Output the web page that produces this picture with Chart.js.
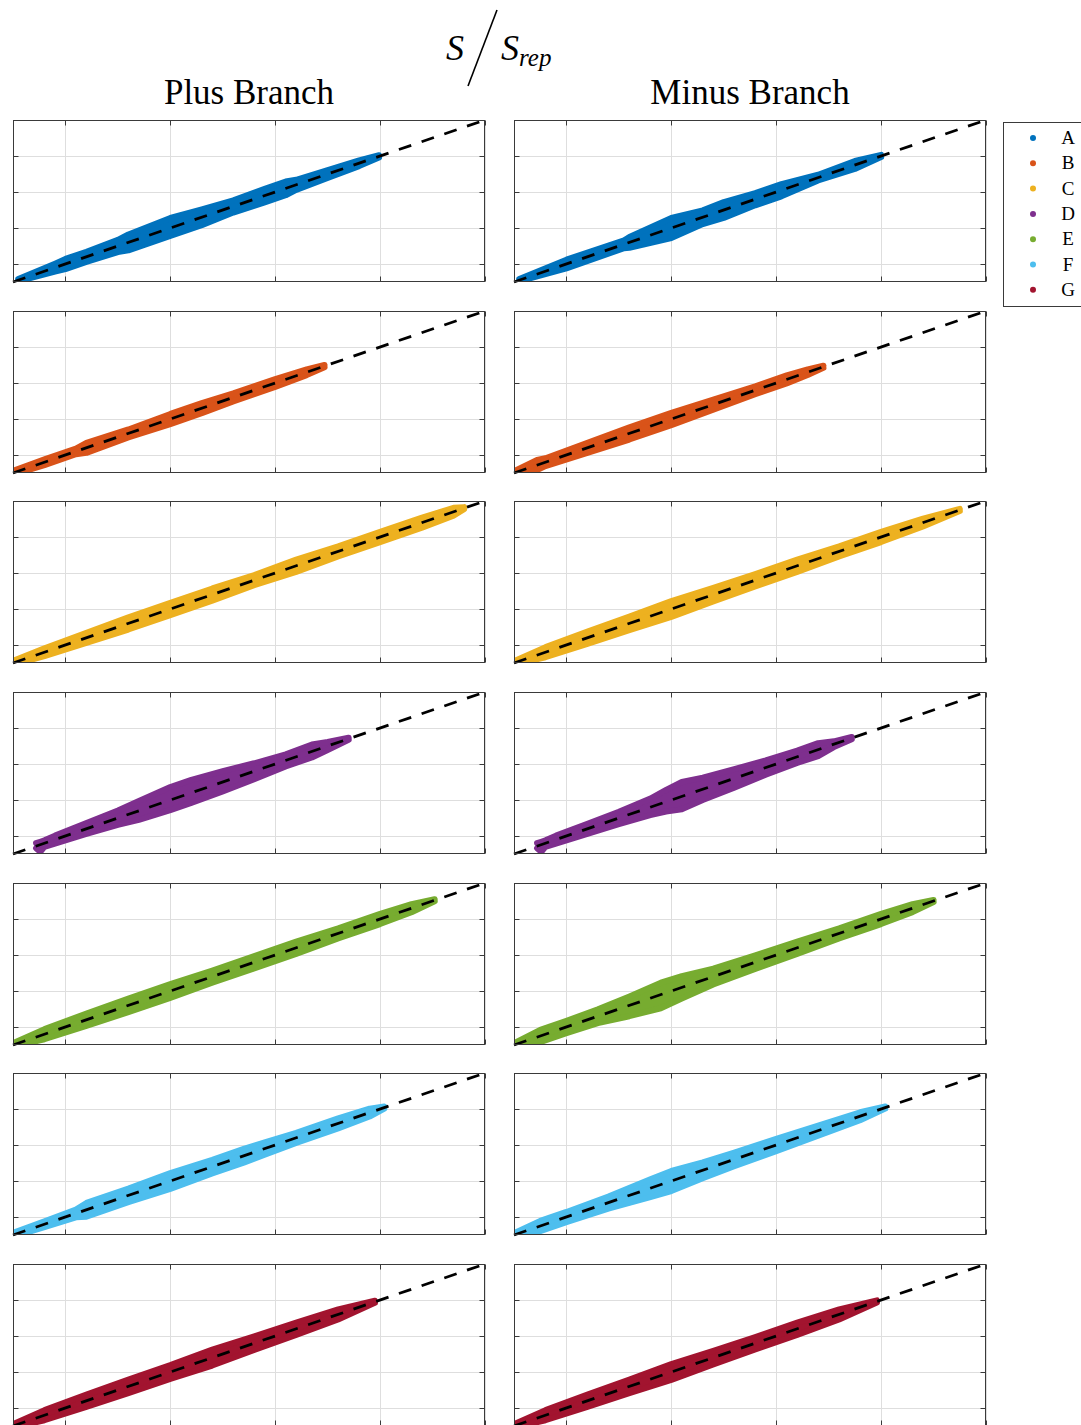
<!DOCTYPE html>
<html>
<head>
<meta charset="utf-8">
<script src="https://cdn.jsdelivr.net/npm/chart.js@4.4.1/dist/chart.umd.min.js"></script>
<style>
  html, body { margin: 0; padding: 0; background: #fff; }
  #page { position: relative; width: 1081px; height: 1425px; overflow: hidden; }
  #page canvas { position: absolute; }
  #overlay { position: absolute; left: 0; top: 0; }
  text { font-family: "Liberation Serif", "DejaVu Serif", serif; fill: #000; }
</style>
</head>
<body>
<div id="page">
  <svg id="overlay" width="1081" height="1425"></svg>
</div>
<script>
// series / legend
const seriesNames = ['A', 'B', 'C', 'D', 'E', 'F', 'G'];
const seriesColors = ['#0072BD', '#D95319', '#EDB120', '#7E2F8E', '#77AC30', '#4DBEEE', '#A2142F'];
const branchTitles = ['Plus Branch', 'Minus Branch'];

// both axes: S_rep (x) vs S (y)
const axisMin = 0.5;
const axisMax = 5;
const tickValues = [1, 2, 3, 4, 5];
const refLine = [0.5, 5];

// point clouds, read as lower / upper edge of the cloud at each x
const plusA_x  = [0.55, 0.9, 1.0, 1.2, 1.5, 1.6, 2.0, 2.3, 2.6, 2.9, 3.1, 3.2, 3.5, 3.8, 3.99];
const plusA_lo = [0.52, 0.79, 0.86, 1.06, 1.33, 1.38, 1.78, 2.08, 2.43, 2.71, 2.91, 3.06, 3.39, 3.72, 3.96];
const plusA_hi = [0.58, 1.01, 1.14, 1.34, 1.67, 1.82, 2.28, 2.52, 2.77, 3.09, 3.29, 3.34, 3.61, 3.88, 4.02];
const minusA_x  = [0.55, 1.0, 1.4, 1.55, 1.6, 2.0, 2.3, 2.5, 2.8, 3.05, 3.4, 3.75, 4.0];
const minusA_lo = [0.52, 0.88, 1.29, 1.44, 1.45, 1.72, 2.11, 2.28, 2.63, 2.88, 3.32, 3.64, 3.97];
const minusA_hi = [0.58, 1.12, 1.51, 1.66, 1.75, 2.28, 2.49, 2.72, 2.97, 3.22, 3.48, 3.86, 4.03];

const plusB_x  = [0.52, 0.8, 1.1, 1.2, 1.6, 2.0, 2.3, 2.6, 3.0, 3.3, 3.47];
const plusB_lo = [0.47, 0.72, 1.02, 1.06, 1.49, 1.86, 2.16, 2.49, 2.89, 3.22, 3.44];
const plusB_hi = [0.58, 0.88, 1.18, 1.34, 1.71, 2.14, 2.44, 2.71, 3.11, 3.38, 3.50];
const minusB_x  = [0.52, 0.72, 0.8, 1.2, 1.6, 2.0, 2.4, 2.8, 3.1, 3.3, 3.45];
const minusB_lo = [0.47, 0.58, 0.69, 1.06, 1.43, 1.83, 2.26, 2.69, 2.99, 3.22, 3.42];
const minusB_hi = [0.58, 0.86, 0.91, 1.34, 1.77, 2.17, 2.54, 2.91, 3.21, 3.38, 3.48];

const plusC_x  = [0.52, 0.8, 1.2, 1.6, 2.0, 2.4, 2.8, 3.2, 3.6, 4.0, 4.4, 4.7, 4.8];
const plusC_lo = [0.47, 0.69, 1.06, 1.43, 1.83, 2.23, 2.66, 3.03, 3.46, 3.86, 4.26, 4.59, 4.77];
const plusC_hi = [0.58, 0.91, 1.34, 1.77, 2.17, 2.57, 2.94, 3.37, 3.74, 4.14, 4.54, 4.81, 4.83];
const minusC_x  = [0.52, 0.8, 1.2, 1.6, 2.0, 2.4, 2.8, 3.2, 3.6, 4.0, 4.4, 4.75];
const minusC_lo = [0.47, 0.66, 1.03, 1.41, 1.78, 2.21, 2.63, 3.03, 3.46, 3.86, 4.29, 4.72];
const minusC_hi = [0.58, 0.94, 1.37, 1.79, 2.22, 2.59, 2.97, 3.37, 3.74, 4.14, 4.51, 4.78];

const plusD_x  = [0.72, 0.76, 0.8, 0.9, 1.2, 1.5, 1.7, 2.0, 2.2, 2.5, 2.8, 3.1, 3.35, 3.5, 3.7];
const plusD_lo = [0.66, 0.56, 0.70, 0.79, 1.06, 1.31, 1.45, 1.72, 1.92, 2.24, 2.58, 2.93, 3.18, 3.39, 3.67];
const plusD_hi = [0.80, 0.84, 0.88, 1.01, 1.36, 1.71, 1.97, 2.36, 2.56, 2.80, 3.02, 3.27, 3.54, 3.61, 3.73];
const minusD_x  = [0.72, 0.76, 0.8, 0.9, 1.2, 1.5, 1.8, 1.95, 2.1, 2.3, 2.6, 2.9, 3.2, 3.4, 3.55, 3.72];
const minusD_lo = [0.66, 0.56, 0.70, 0.79, 1.06, 1.33, 1.58, 1.68, 1.74, 2.00, 2.34, 2.70, 3.03, 3.22, 3.47, 3.69];
const minusD_hi = [0.80, 0.84, 0.88, 1.01, 1.34, 1.67, 2.04, 2.28, 2.50, 2.62, 2.86, 3.10, 3.37, 3.58, 3.63, 3.75];

const plusE_x  = [0.52, 0.8, 1.2, 1.6, 2.0, 2.4, 2.8, 3.2, 3.6, 4.0, 4.3, 4.52];
const plusE_lo = [0.47, 0.66, 1.03, 1.41, 1.81, 2.23, 2.63, 3.03, 3.46, 3.86, 4.19, 4.49];
const plusE_hi = [0.58, 0.94, 1.37, 1.79, 2.19, 2.57, 2.97, 3.37, 3.74, 4.14, 4.41, 4.55];
const minusE_x  = [0.52, 0.75, 1.0, 1.3, 1.6, 1.9, 2.1, 2.4, 2.8, 3.2, 3.6, 4.0, 4.3, 4.5];
const minusE_lo = [0.47, 0.58, 0.83, 1.11, 1.30, 1.52, 1.79, 2.18, 2.61, 3.03, 3.46, 3.86, 4.19, 4.47];
const minusE_hi = [0.58, 0.92, 1.17, 1.49, 1.85, 2.23, 2.41, 2.62, 2.99, 3.37, 3.74, 4.14, 4.41, 4.53];

const plusF_x  = [0.52, 0.8, 1.1, 1.2, 1.6, 2.0, 2.4, 2.7, 2.9, 3.2, 3.6, 3.9, 4.04];
const plusF_lo = [0.47, 0.72, 0.99, 1.01, 1.41, 1.78, 2.21, 2.51, 2.73, 3.06, 3.46, 3.79, 4.01];
const plusF_hi = [0.58, 0.88, 1.21, 1.39, 1.79, 2.22, 2.59, 2.89, 3.07, 3.34, 3.74, 4.01, 4.07];
const minusF_x  = [0.52, 0.75, 1.0, 1.4, 1.8, 2.0, 2.3, 2.6, 3.0, 3.4, 3.8, 4.04];
const minusF_lo = [0.47, 0.61, 0.86, 1.23, 1.55, 1.72, 2.08, 2.41, 2.83, 3.26, 3.69, 4.01];
const minusF_hi = [0.58, 0.89, 1.14, 1.57, 2.05, 2.28, 2.52, 2.79, 3.17, 3.54, 3.91, 4.07];

const plusG_x  = [0.52, 0.8, 1.2, 1.6, 2.0, 2.4, 2.8, 3.2, 3.6, 3.95];
const plusG_lo = [0.47, 0.66, 1.03, 1.41, 1.81, 2.18, 2.61, 3.03, 3.46, 3.92];
const plusG_hi = [0.58, 0.94, 1.37, 1.79, 2.19, 2.62, 2.99, 3.37, 3.74, 3.98];
const minusG_x  = [0.52, 0.8, 1.2, 1.6, 2.0, 2.4, 2.8, 3.2, 3.6, 3.96];
const minusG_lo = [0.47, 0.66, 1.03, 1.41, 1.78, 2.21, 2.63, 3.03, 3.46, 3.93];
const minusG_hi = [0.58, 0.94, 1.37, 1.79, 2.22, 2.59, 2.97, 3.37, 3.74, 3.99];

const panels = [
  [[plusA_x, plusA_lo, plusA_hi], [minusA_x, minusA_lo, minusA_hi]],
  [[plusB_x, plusB_lo, plusB_hi], [minusB_x, minusB_lo, minusB_hi]],
  [[plusC_x, plusC_lo, plusC_hi], [minusC_x, minusC_lo, minusC_hi]],
  [[plusD_x, plusD_lo, plusD_hi], [minusD_x, minusD_lo, minusD_hi]],
  [[plusE_x, plusE_lo, plusE_hi], [minusE_x, minusE_lo, minusE_hi]],
  [[plusF_x, plusF_lo, plusF_hi], [minusF_x, minusF_lo, minusF_hi]],
  [[plusG_x, plusG_lo, plusG_hi], [minusG_x, minusG_lo, minusG_hi]],
];

// layout (px)
const colLeft = [13, 514];
const rowTop = [120, 311, 501, 692, 883, 1073, 1264];
const boxW = 472, boxH = 162, PAD = 6;
const GRID = '#dedede', AXIS = '#3a3a3a', TICK_LEN = 5;

// MATLAB-like box with inward tick marks on all four sides
const boxPlugin = {
  id: 'box',
  afterDatasetsDraw(chart) {
    const { ctx, chartArea: a, scales } = chart;
    const l = Math.round(a.left) + 0.5, r = Math.round(a.right) - 0.5;
    const t = Math.round(a.top) + 0.5, b = Math.round(a.bottom) - 0.5;
    ctx.save();
    ctx.strokeStyle = AXIS;
    ctx.lineWidth = 1;
    ctx.beginPath();
    tickValues.forEach(v => {
      const px = Math.round(scales.x.getPixelForValue(v)) + 0.5;
      ctx.moveTo(px, b); ctx.lineTo(px, b - TICK_LEN);
      ctx.moveTo(px, t); ctx.lineTo(px, t + TICK_LEN);
      const py = Math.round(scales.y.getPixelForValue(v)) + 0.5;
      ctx.moveTo(l, py); ctx.lineTo(l + TICK_LEN, py);
      ctx.moveTo(r, py); ctx.lineTo(r - TICK_LEN, py);
    });
    ctx.stroke();
    ctx.strokeRect(l, t, r - l, b - t);
    ctx.restore();
  }
};

function axisOpts(isX) {
  return {
    type: 'linear',
    min: axisMin,
    max: axisMax,
    afterBuildTicks: s => { s.ticks = tickValues.map(v => ({ value: v })); },
    afterFit: s => { if (isX) s.height = 0; else s.width = 0; },
    ticks: { display: false },
    grid: { color: GRID, lineWidth: 1, drawTicks: false },
    border: { display: false }
  };
}

function makePanel(left, top, xs, lo, hi, color) {
  const canvas = document.createElement('canvas');
  canvas.width = boxW + 2 * PAD;
  canvas.height = boxH + 2 * PAD;
  canvas.style.left = (left - PAD) + 'px';
  canvas.style.top = (top - PAD) + 'px';
  document.getElementById('page').appendChild(canvas);

  const band = {
    showLine: true, pointRadius: 0, borderColor: color, backgroundColor: color,
    borderWidth: 6, borderCapStyle: 'round', borderJoinStyle: 'round', clip: 0
  };

  new Chart(canvas, {
    type: 'scatter',
    data: {
      datasets: [
        {
          data: refLine.map(v => ({ x: v, y: v })),
          showLine: true, pointRadius: 0, borderColor: '#000',
          borderWidth: 2.8, borderDash: [13, 11], clip: 4
        },
        Object.assign({ data: xs.map((x, i) => ({ x: x, y: hi[i] })), fill: false }, band),
        Object.assign({ data: xs.map((x, i) => ({ x: x, y: lo[i] })), fill: '-1' }, band)
      ]
    },
    options: {
      responsive: false,
      animation: false,
      devicePixelRatio: 1,
      layout: { padding: PAD },
      plugins: { legend: { display: false }, tooltip: { enabled: false } },
      scales: { x: axisOpts(true), y: axisOpts(false) }
    },
    plugins: [boxPlugin]
  });
}

panels.forEach((row, r) => {
  row.forEach((p, c) => {
    makePanel(colLeft[c], rowTop[r], p[0], p[1], p[2], seriesColors[r]);
  });
});

// titles and legend as real text
const NS = 'http://www.w3.org/2000/svg';
const svg = document.getElementById('overlay');
function el(name, attrs, txt) {
  const e = document.createElementNS(NS, name);
  Object.keys(attrs).forEach(k => e.setAttribute(k, attrs[k]));
  if (txt !== undefined) e.textContent = txt;
  svg.appendChild(e);
  return e;
}

el('text', { x: 446, y: 60, 'font-size': 36, 'font-style': 'italic' }, 'S');
el('line', { x1: 468, y1: 86, x2: 497, y2: 10, stroke: '#000', 'stroke-width': 1.6 });
const srep = el('text', { x: 501, y: 60, 'font-size': 36, 'font-style': 'italic' }, 'S');
const sub = document.createElementNS(NS, 'tspan');
sub.setAttribute('font-size', 25);
sub.setAttribute('dy', 6);
sub.textContent = 'rep';
srep.appendChild(sub);

branchTitles.forEach((t, c) => {
  el('text', { x: colLeft[c] + boxW / 2, y: 104, 'font-size': 35, 'text-anchor': 'middle' }, t);
});

el('rect', { x: 1003.5, y: 122.5, width: 100, height: 184, fill: '#fff', stroke: AXIS, 'stroke-width': 1 });
seriesNames.forEach((n, i) => {
  const cy = 138 + i * 25.3;
  el('circle', { cx: 1033, cy: cy, r: 3, fill: seriesColors[i] });
  el('text', { x: 1068, y: cy + 6, 'font-size': 19, 'text-anchor': 'middle' }, n);
});
</script>
</body>
</html>
